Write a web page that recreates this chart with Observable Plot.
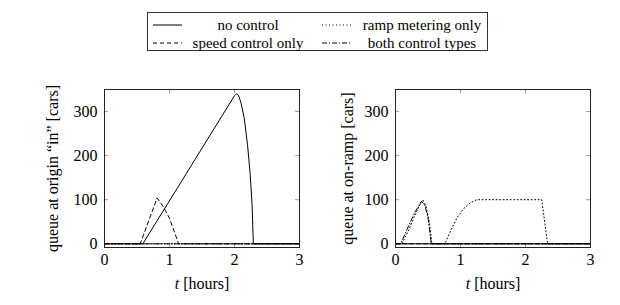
<!DOCTYPE html>
<html>
<head>
<meta charset="utf-8">
<script src="https://cdn.jsdelivr.net/npm/d3@7"></script>
<script src="https://cdn.jsdelivr.net/npm/@observablehq/plot@0.6"></script>
<style>
  html, body { margin: 0; padding: 0; background: #fff; }
  #wrap { position: relative; width: 620px; height: 305px; font-family: "Liberation Serif", serif; color: #000; }
  #legend { position: absolute; left: 147px; top: 12px; width: 341px; height: 39px; border: 1px solid #333; box-sizing: border-box; }
  .item { position: absolute; font-size: 15px; line-height: 15px; white-space: nowrap; transform: translate(-50%, -50%); }
  .sample { position: absolute; }
  .panel { position: absolute; top: 60px; }
</style>
</head>
<body>
<div id="wrap">
  <div id="legend"></div>
  <div class="panel" id="left" style="left:0px"></div>
  <div class="panel" id="right" style="left:310px"></div>
</div>
<script>
// ---- data ----
const seriesNames = ["no control", "speed control only", "ramp metering only", "both control types"];
const hourTicks = [0, 1, 2, 3];
const carTicks = [0, 100, 200, 300];

// queue at origin "in"
const originNoControlT = [0, 0.59, 2.0, 2.03, 2.06, 2.1, 2.15, 2.2, 2.24, 2.27, 2.29, 3];
const originNoControlQ = [0, 0, 336, 340, 337, 320, 285, 225, 160, 90, 0, 0];
const originSpeedT = [0, 0.55, 0.81, 0.9, 1.0, 1.14, 3];
const originSpeedQ = [0, 0, 104, 85, 58, 0, 0];
const originRampT = [0, 3];
const originRampQ = [0, 0];
const originBothT = [0, 3];
const originBothQ = [0, 0];

// queue at on-ramp
const onrampNoControlT = [0, 3];
const onrampNoControlQ = [0, 0];
const onrampSpeedT = [0, 3];
const onrampSpeedQ = [0, 0];
const onrampRampT = [0, 0.1, 0.2, 0.3, 0.38, 0.42, 0.47, 0.52, 0.56, 0.76, 0.85, 0.95, 1.05, 1.15, 1.25, 2.25, 2.34, 3];
const onrampRampQ = [0, 0, 30, 65, 90, 100, 85, 50, 0, 0, 30, 60, 80, 93, 100, 100, 0, 0];
const onrampBothT = [0, 0.08, 0.2, 0.3, 0.4, 0.45, 0.5, 0.55, 3];
const onrampBothQ = [0, 0, 40, 72, 96, 88, 60, 0, 0];

const dashes = ["none", "4,3", "1,2.5", "5,2,1,2"];

function rows(T, Q) { return T.map((t, i) => ({t, q: Q[i]})); }

function panel(series, yLabel, marginLeft, marginRight, labelOffset) {
  const W = 310, H = 235, mt = 29, mb = 48;
  const pw = W - marginLeft - marginRight, ph = H - mt - mb, tl = 4;
  const marks = [
    Plot.axisY(carTicks, {anchor: "left", tickSize: 0, tickPadding: 7, label: yLabel, labelAnchor: "center", labelArrow: "none", labelOffset, fontSize: 16}),
    Plot.tickY(carTicks, {y: d => d, insetRight: pw - tl, stroke: "#999"}),
    Plot.tickY(carTicks, {y: d => d, insetLeft: pw - tl, stroke: "#999"}),
    Plot.axisX(hourTicks, {anchor: "bottom", tickSize: 0, tickPadding: 6, label: "t [hours]", labelAnchor: "center", labelArrow: "none", labelOffset: 41, fontSize: 16}),
    Plot.tickX(hourTicks, {x: d => d, insetTop: ph - tl, stroke: "#999"}),
    Plot.tickX(hourTicks, {x: d => d, insetBottom: ph - tl, stroke: "#999"})
  ];
  series.forEach((s, k) => {
    marks.push(Plot.line(rows(s[0], s[1]), {x: "t", y: "q", stroke: "black", strokeWidth: 1, strokeDasharray: dashes[k]}));
  });
  marks.push(Plot.frame({stroke: "#222"}));
  const svg = Plot.plot({
    width: W, height: H,
    marginLeft, marginRight, marginTop: mt, marginBottom: mb,
    x: {domain: [0, 3]},
    y: {domain: [-8.4, 350]},
    style: {fontFamily: "'Liberation Serif', serif", fontSize: "16px", background: "transparent", color: "black"},
    marks
  });
  const lab = svg.querySelector('[aria-label="x-axis label"] text');
  if (lab) {
    lab.textContent = "";
    const ns = "http://www.w3.org/2000/svg";
    const a = document.createElementNS(ns, "tspan"); a.setAttribute("font-style", "italic"); a.textContent = "t";
    const b = document.createElementNS(ns, "tspan"); b.textContent = " [hours]";
    lab.appendChild(a); lab.appendChild(b);
  }
  return svg;
}

document.getElementById("left").appendChild(panel(
  [[originNoControlT, originNoControlQ], [originSpeedT, originSpeedQ], [originRampT, originRampQ], [originBothT, originBothQ]],
  "queue at origin “in” [cars]", 104, 11, 58));
document.getElementById("right").appendChild(panel(
  [[onrampNoControlT, onrampNoControlQ], [onrampSpeedT, onrampSpeedQ], [onrampRampT, onrampRampQ], [onrampBothT, onrampBothQ]],
  "queue at on-ramp [cars]", 85, 30, 54));

// ---- legend ----
const legend = document.getElementById("legend");
const cols = [{sx: 5, tx: 100}, {sx: 174, tx: 274}];
seriesNames.forEach((name, k) => {
  const c = (k === 0 || k === 1) ? cols[0] : cols[1];
  const rowY = (k === 0 || k === 2) ? 12 : 30;
  const ns = "http://www.w3.org/2000/svg";
  const s = document.createElementNS(ns, "svg");
  s.setAttribute("class", "sample"); s.setAttribute("width", 30); s.setAttribute("height", 6);
  s.style.left = c.sx + "px"; s.style.top = (rowY - 3) + "px";
  const l = document.createElementNS(ns, "line");
  l.setAttribute("x1", 0); l.setAttribute("x2", 29); l.setAttribute("y1", 3); l.setAttribute("y2", 3);
  l.setAttribute("stroke", "black"); l.setAttribute("stroke-width", 1);
  if (dashes[k] !== "none") l.setAttribute("stroke-dasharray", dashes[k]);
  s.appendChild(l);
  legend.appendChild(s);
  const t = document.createElement("div");
  t.className = "item"; t.textContent = name;
  t.style.left = c.tx + "px"; t.style.top = rowY + "px";
  legend.appendChild(t);
});
</script>
</body>
</html>
